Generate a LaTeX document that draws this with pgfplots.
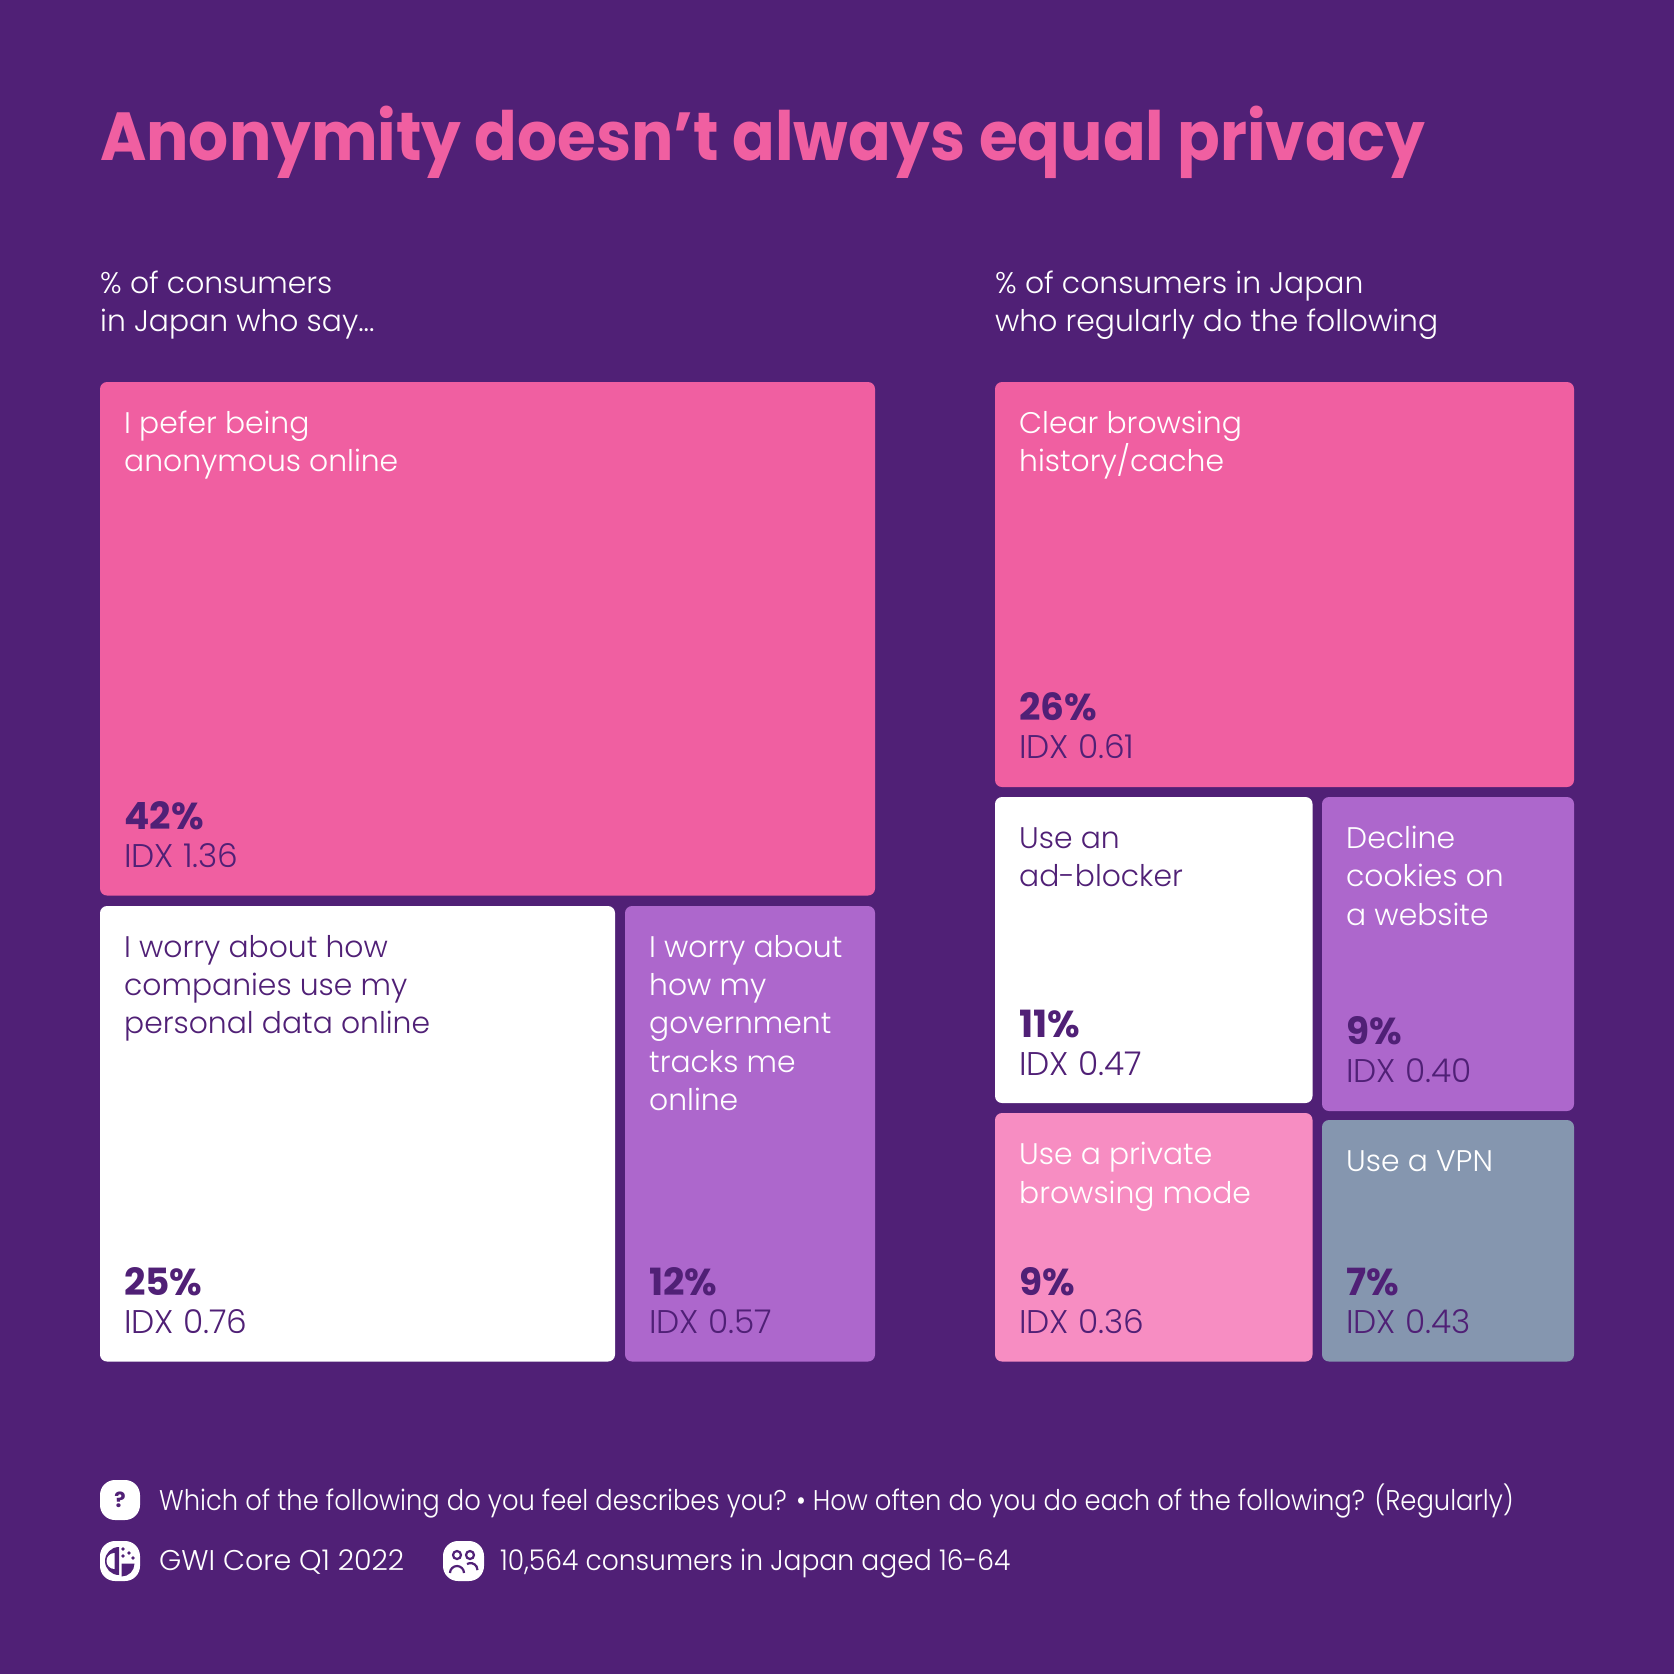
\documentclass[border=0pt]{standalone}
\usepackage{pgfplots}
\pgfplotsset{compat=1.18}
\usepackage{fontspec}
\setmainfont{Poppins}
\newfontfamily\lightf{Poppins Light}
\newfontfamily\boldf{Poppins Bold}
\newfontfamily\titlef[FakeStretch=0.925]{Poppins Bold}
\newfontfamily\footA[FakeStretch=0.905]{Poppins Light}
\newfontfamily\footB[FakeStretch=0.932]{Poppins Light}
\definecolor{bg}{HTML}{502076}
\definecolor{pinkA}{HTML}{F05FA1}
\definecolor{pinkB}{HTML}{F78DC2}
\definecolor{purp}{HTML}{AD67CC}
\definecolor{greyb}{HTML}{8596AF}
\newcommand{\tile}[5]{\addplot[fill=#5,draw=none,rounded corners=7pt] coordinates {(#1,#2) (#3,#2) (#3,#4) (#1,#4)} --cycle;}
\newcommand{\lab}[4]{\node[anchor=base west,inner sep=0pt,text=#3] at (axis cs:#1,#2) {\lightf\fontsize{29.8}{33}\selectfont #4};}
\newcommand{\foot}[4]{\node[anchor=base west,inner sep=0pt,text=white] at (axis cs:#1,#2) {#3\fontsize{28.5}{33}\selectfont #4};}
\newcommand{\pct}[4]{%
  \node[anchor=base west,inner sep=0pt,text=bg] at (axis cs:#1,#2+1.5) {\boldf\fontsize{37.5}{40}\selectfont #3};
  \node[anchor=base west,inner sep=0pt,text=bg] at (axis cs:#1,#2+39) {\lightf\fontsize{32.8}{36}\selectfont #4};}
\begin{document}
\begin{tikzpicture}
\begin{axis}[hide axis,scale only axis,width=1674pt,height=1674pt,xmin=0,xmax=1674,ymin=0,ymax=1674,y dir=reverse,clip=true]
\addplot[fill=bg,draw=none] coordinates {(0,0) (1674,0) (1674,1674) (0,1674)} --cycle;
% left treemap
\tile{100}{382}{875}{895.5}{pinkA}
\tile{100}{906}{615}{1361.5}{white}
\tile{625}{906}{875}{1361.5}{purp}
% right treemap
\tile{995}{382}{1574}{787}{pinkA}
\tile{995}{797}{1312.5}{1103}{white}
\tile{1322}{797}{1574}{1111}{purp}
\tile{995}{1113}{1312.5}{1361.5}{pinkB}
\tile{1322}{1120}{1574}{1361.5}{greyb}
% title
\node[anchor=base west,inner sep=0pt,text=pinkA] at (axis cs:100,160) {\titlef\fontsize{68}{70}\selectfont Anonymity doesn’t always equal privacy};
% subtitles
\lab{100}{293}{white}{\% of consumers}
\lab{100}{331}{white}{in Japan who say...}
\lab{995}{293}{white}{\% of consumers in Japan}
\lab{995}{331}{white}{who regularly do the following}
% tile labels
\lab{124}{433}{white}{I pefer being}
\lab{124}{471}{white}{anonymous online}
\pct{124}{828}{42\%}{IDX 1.36}
\lab{124}{957}{bg}{I worry about how}
\lab{124}{995.5}{bg}{companies use my}
\lab{124}{1033.5}{bg}{personal data online}
\pct{124}{1294}{25\%}{IDX 0.76}
\lab{649}{957}{white}{I worry about}
\lab{649}{995.5}{white}{how my}
\lab{649}{1033.5}{white}{government}
\lab{649}{1072}{white}{tracks me}
\lab{649}{1110}{white}{online}
\pct{649}{1294}{12\%}{IDX 0.57}
\lab{1019}{433}{white}{Clear browsing}
\lab{1019}{471}{white}{history/cache}
\pct{1019}{719}{26\%}{IDX 0.61}
\lab{1019}{848}{bg}{Use an}
\lab{1019}{886}{bg}{ad-blocker}
\pct{1019}{1036}{11\%}{IDX 0.47}
\lab{1346}{848}{white}{Decline}
\lab{1346}{886}{white}{cookies on}
\lab{1346}{925}{white}{a website}
\pct{1346}{1043}{9\%}{IDX 0.40}
\lab{1019}{1164}{white}{Use a private}
\lab{1019}{1203}{white}{browsing mode}
\pct{1019}{1294}{9\%}{IDX 0.36}
\lab{1346}{1171}{white}{Use a VPN}
\pct{1346}{1294}{7\%}{IDX 0.43}
% footer
\addplot[fill=white,draw=none,rounded corners=15pt] coordinates {(100,1480) (140,1480) (140,1520) (100,1520)} --cycle;
\addplot[fill=white,draw=none,rounded corners=15pt] coordinates {(100,1541) (140,1541) (140,1581) (100,1581)} --cycle;
\addplot[fill=white,draw=none,rounded corners=15pt] coordinates {(443,1541) (484,1541) (484,1581) (443,1581)} --cycle;
\node[text=bg,inner sep=0pt] at (axis cs:120,1500) {\boldf\fontsize{21}{24}\selectfont ?};
% GWI icon
\fill[bg] (axis cs:119,1561) ++(0,14pt) arc[start angle=90,end angle=270,radius=14pt] -- cycle;
\fill[white] (axis cs:114.5,1561) ++(0,8pt) arc[start angle=90,end angle=270,radius=8pt] -- cycle;
\fill[bg] (axis cs:121.5,1563.5) -- ++(13pt,0) arc[start angle=0,end angle=-90,radius=13pt] -- cycle;
\fill[bg] (axis cs:123,1549) circle (1.8pt) (axis cs:129,1553) circle (1.8pt) (axis cs:123,1556) circle (1.8pt) (axis cs:133,1558) circle (1.8pt);
% people icon
\draw[bg,line width=2.2pt] (axis cs:457,1555) circle (4pt) (axis cs:470,1555) circle (4pt);
\draw[bg,line width=2.2pt] (axis cs:450,1573) arc[start angle=180,end angle=0,radius=7pt];
\draw[bg,line width=2.2pt] (axis cs:467,1564) arc[start angle=120,end angle=0,radius=7pt];
\foot{159}{1510}{\footA}{Which of the following do you feel describes you? • How often do you do each of the following? (Regularly)}
\foot{159}{1570}{\lightf}{GWI Core Q1 2022}
\foot{500}{1570}{\footB}{10,564 consumers in Japan aged 16-64}
\end{axis}
\end{tikzpicture}
\end{document}
